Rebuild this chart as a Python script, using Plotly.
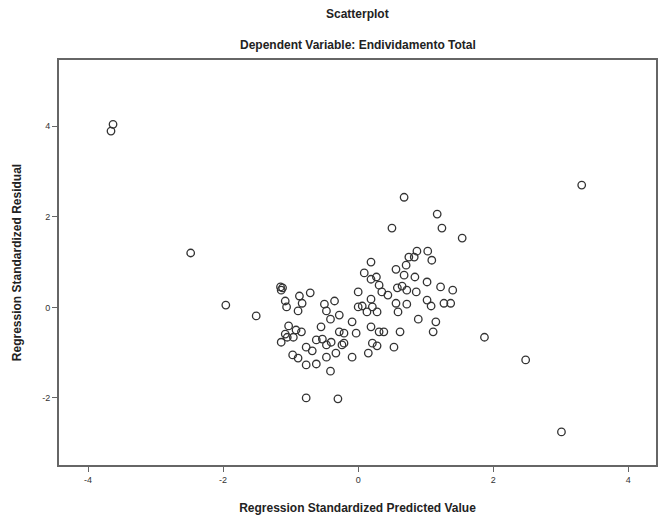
import plotly.graph_objects as go

# Regression standardized predicted values (x) and residuals (y)
pred = [
    -3.63, -3.66, -2.48, -1.96, -1.51, -0.77, -0.30, 0.68, 1.17, 1.24,
    0.50, 1.54, 1.87, 2.48, 3.01, 3.31,
    -1.15, -1.14, -0.87, -0.71, -1.08, -1.06, -0.89, -0.83, -0.50, -0.35,
    -0.47, -0.41, -1.03, -1.08, -1.14, -0.92, -0.84, -1.05, -0.96, -0.77,
    -0.97, -0.89, -0.77, -0.62, -0.55, -0.62, -0.53, -0.47, -0.40, -0.41,
    -0.47, -0.33, -0.68, -0.21, -1.12,
    0.87, 1.03, 1.09, 0.75, 0.83, 0.19, 0.71, 0.56, 0.09, 0.27,
    0.19, 0.68, 0.84, 0.31, 1.02, 1.22, 1.40, 0.00, 0.35, 0.44,
    0.58, 0.65, 0.72, 0.86, 0.19, 0.21, 0.06, 0.00, 0.13, 0.28,
    0.56, 0.59, 0.72, 1.02, 1.08, 1.27, 1.37, -0.09, -0.28, 0.89,
    1.15, 1.11, 0.19, 0.31, 0.38, 0.62, -0.03, -0.21, -0.28, 0.21,
    0.28, 0.53, 0.15, -0.09, -0.24,
]
resid = [
    4.04, 3.89, 1.20, 0.05, -0.19, -2.00, -2.02, 2.43, 2.06, 1.75,
    1.75, 1.53, -0.66, -1.16, -2.75, 2.70,
    0.45, 0.38, 0.25, 0.32, 0.14, 0.01, -0.08, 0.09, 0.07, 0.14,
    -0.08, -0.26, -0.41, -0.59, -0.77, -0.50, -0.54, -0.66, -0.66, -0.88,
    -1.05, -1.12, -1.27, -1.25, -0.43, -0.72, -0.70, -0.83, -0.77, -1.41,
    -1.10, -1.01, -0.96, -0.79, 0.43,
    1.24, 1.24, 1.04, 1.11, 1.11, 1.00, 0.93, 0.84, 0.76, 0.67,
    0.62, 0.71, 0.67, 0.49, 0.56, 0.45, 0.38, 0.34, 0.34, 0.27,
    0.43, 0.47, 0.38, 0.34, 0.18, 0.01, 0.03, 0.01, -0.10, -0.10,
    0.09, -0.10, 0.07, 0.16, 0.03, 0.09, 0.09, -0.32, -0.17, -0.26,
    -0.32, -0.54, -0.43, -0.54, -0.54, -0.54, -0.57, -0.57, -0.54, -0.79,
    -0.85, -0.88, -1.01, -1.10, -0.83,
]

tick_vals = [-4, -2, 0, 2, 4]
tick_text = ["-4", "-2", "0", "2", "4"]

title_main = "Scatterplot"
title_sub = "Dependent Variable: Endividamento Total"
x_title = "Regression Standardized Predicted Value"
y_title = "Regression Standardized Residual"

font_family = "Liberation Sans, Arial, sans-serif"

fig = go.Figure()
fig.add_trace(go.Scatter(
    x=pred, y=resid, mode="markers",
    marker=dict(symbol="circle-open", size=7.5, color="#333",
                line=dict(width=1.3, color="#333")),
    showlegend=False, hoverinfo="x+y",
))

fig.update_layout(
    width=659, height=525,
    margin=dict(l=59, r=1, t=60, b=60),
    paper_bgcolor="white", plot_bgcolor="white",
    font=dict(family=font_family, color="#222"),
    annotations=[
        dict(text="<b>" + title_main + "</b>", x=0.5, xref="paper", xanchor="center",
             y=1.1136, yref="paper", yanchor="middle", showarrow=False,
             font=dict(size=12, family=font_family, color="#222")),
        dict(text="<b>" + title_sub + "</b>", x=0.5, xref="paper", xanchor="center",
             y=1.037, yref="paper", yanchor="middle", showarrow=False,
             font=dict(size=12, family=font_family, color="#222")),
    ],
    xaxis=dict(
        range=[-4.43, 4.41], tickvals=tick_vals, ticktext=tick_text,
        showgrid=False, zeroline=False,
        showline=True, linecolor="#666", linewidth=2, mirror=True,
        ticks="outside", ticklen=5, tickcolor="#666",
        tickfont=dict(size=9, color="#333"),
        title=dict(text="<b>" + x_title + "</b>", standoff=20,
                   font=dict(size=12, color="#222")),
    ),
    yaxis=dict(
        range=[-3.48, 5.46], tickvals=tick_vals, ticktext=tick_text,
        showgrid=False, zeroline=False,
        showline=True, linecolor="#666", linewidth=2, mirror=True,
        ticks="outside", ticklen=5, tickcolor="#666",
        tickfont=dict(size=9, color="#333"),
        title=dict(text="<b>" + y_title + "</b>", standoff=18,
                   font=dict(size=12, color="#222")),
    ),
)

fig.write_html("out.html")
